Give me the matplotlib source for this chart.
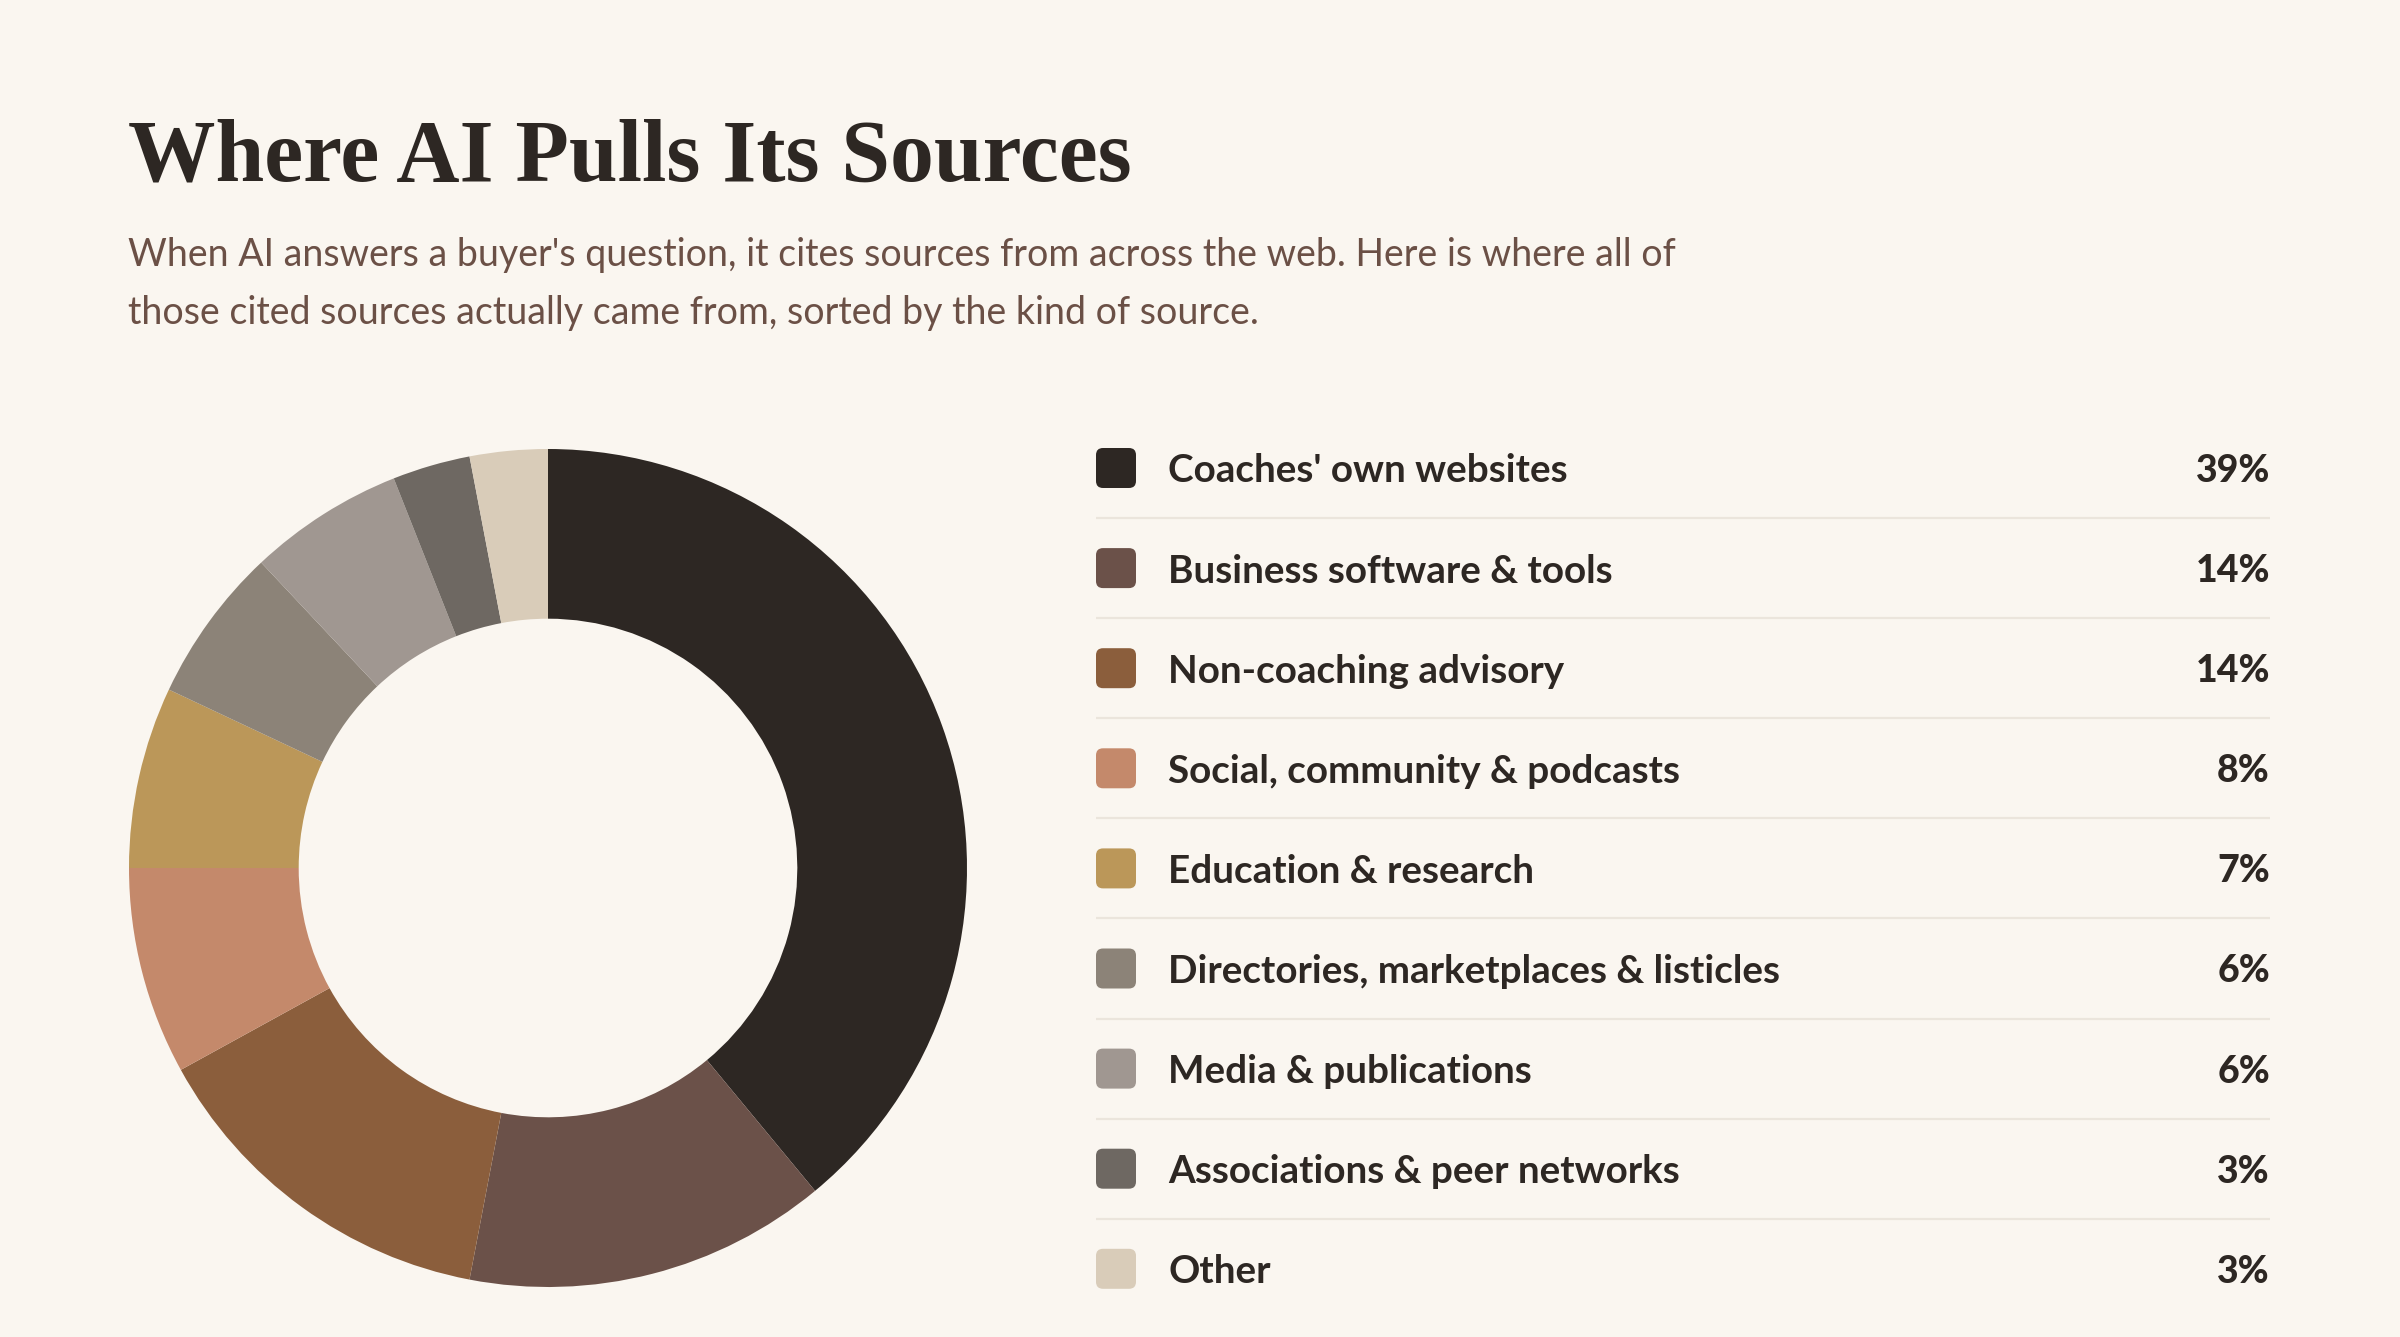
import matplotlib
matplotlib.use("Agg")
import matplotlib.pyplot as plt
from matplotlib.patches import FancyBboxPatch

# data
categories = [
    "Coaches' own websites",
    "Business software & tools",
    "Non-coaching advisory",
    "Social, community & podcasts",
    "Education & research",
    "Directories, marketplaces & listicles",
    "Media & publications",
    "Associations & peer networks",
    "Other",
]
shares = [39, 14, 14, 8, 7, 6, 6, 3, 3]
colors = ["#2d2723", "#6b5149", "#8b5e3c", "#c4896b", "#bb9759",
          "#8c8378", "#a09791", "#6e6862", "#d9ccb9"]

title = "Where AI Pulls Its Sources"
subtitle_lines = [
    "When AI answers a buyer's question, it cites sources from across the web. Here is where all of",
    "those cited sources actually came from, sorted by the kind of source.",
]

bg = "#faf6f0"
ink = "#2d2723"
sub_ink = "#6b5046"
rule = "#ebe5dc"

W, H = 2400, 1337
fig = plt.figure(figsize=(W / 100, H / 100), dpi=100, facecolor=bg)

# donut
cx, cy, r = 548, 868, 419
ax = fig.add_axes([(cx - r) / W, 1 - (cy + r) / H, 2 * r / W, 2 * r / H])
ax.pie(shares, colors=colors, startangle=90, counterclock=False, radius=1,
       wedgeprops=dict(width=0.405, linewidth=0))
ax.set_xlim(-1, 1)
ax.set_ylim(-1, 1)
ax.axis("off")

# overlay in pixel units
ov = fig.add_axes([0, 0, 1, 1], facecolor="none")
ov.set_xlim(0, W)
ov.set_ylim(H, 0)
ov.axis("off")

ov.text(128, 181, title, fontsize=63, fontweight="bold", family="Liberation Serif",
        color=ink, va="baseline", ha="left")
for k, line in enumerate(subtitle_lines):
    ov.text(128, 266 + k * 58, line, fontsize=27, family="Lato", color=sub_ink,
            va="baseline", ha="left")

row0, step = 468, 100.1
x0, x1 = 1096, 2270
for i, (name, val, c) in enumerate(zip(categories, shares, colors)):
    y = row0 + i * step
    ov.add_patch(FancyBboxPatch((x0 + 4, y - 16), 32, 32,
                                boxstyle="round,pad=4,rounding_size=7",
                                facecolor=c, edgecolor="none"))
    ov.text(1168, y, name, fontsize=27.8, family="Lato", fontweight="bold",
            color=ink, va="center_baseline", ha="left")
    ov.text(x1, y, f"{val}%", fontsize=27, family="Lato", fontweight="black",
            color=ink, va="center_baseline", ha="right")
    if i < len(categories) - 1:
        ov.plot([x0, x1], [y + step / 2, y + step / 2], color=rule, lw=1.6,
                solid_capstyle="butt")

fig.savefig("out.png", dpi=100, facecolor=bg)
